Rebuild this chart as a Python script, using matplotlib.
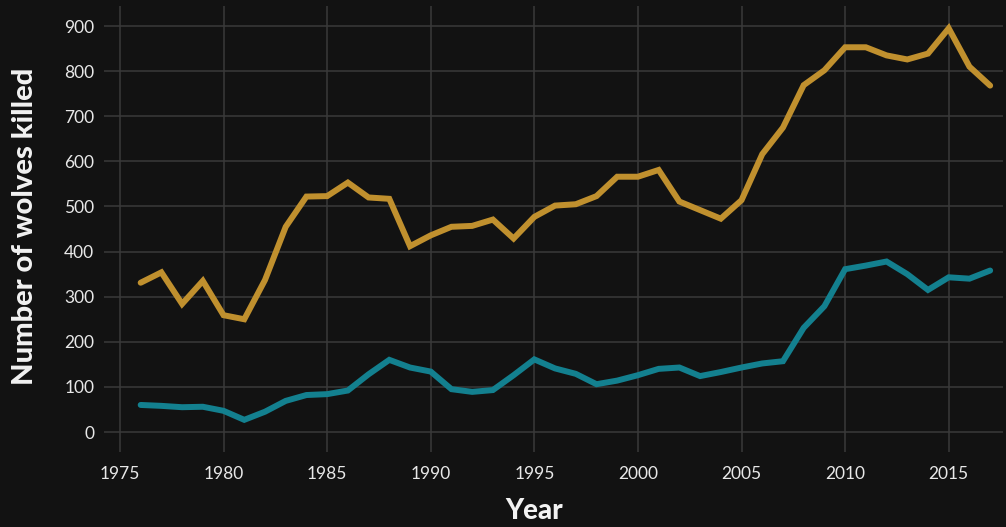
import matplotlib.pyplot as plt

# Данные: годы и число убитых волков
years = list(range(1976, 2018))
gold_vals = [331, 354, 284, 335, 259, 250, 337, 455, 522, 523,
             553, 520, 517, 412, 436, 455, 457, 471, 429, 477,
             502, 505, 523, 566, 566, 581, 511, 492, 473, 514,
             616, 675, 769, 802, 853, 853, 835, 826, 839, 895,
             810, 768]
teal_vals = [60, 58, 55, 56, 47, 27, 45, 69, 82, 84,
             92, 128, 160, 143, 134, 95, 89, 93, 126, 161,
             141, 129, 106, 114, 126, 140, 143, 124, 133, 143,
             152, 157, 231, 279, 361, 369, 378, 350, 315, 343,
             340, 358]
x_ticks = [1975, 1980, 1985, 1990, 1995, 2000, 2005, 2010, 2015]
y_ticks = [0, 100, 200, 300, 400, 500, 600, 700, 800, 900]

bg = '#121212'
grid_col = '#3a3a3a'
text_col = '#f2f2f2'

fig = plt.figure(figsize=(10.06, 5.27), dpi=100, facecolor=bg)
ax = fig.add_axes([104 / 1006, 1 - 452 / 527, (1003 - 104) / 1006, (452 - 6) / 527])
ax.set_facecolor(bg)

ax.plot(years, gold_vals, color='#c0902e', lw=4.3, solid_joinstyle='miter',
        solid_capstyle='round', zorder=3)
ax.plot(years, teal_vals, color='#13808f', lw=4.3, solid_joinstyle='miter',
        solid_capstyle='round', zorder=3)

ax.set_xlim(1974.23, 2017.62)
ax.set_ylim(-44.3, 944.5)
ax.set_xticks(x_ticks)
ax.set_yticks(y_ticks)
ax.grid(True, color=grid_col, lw=1.1)
ax.set_axisbelow(True)
for s in ax.spines.values():
    s.set_visible(False)

ax.tick_params(axis='both', length=0, colors='#e8e8e8', labelsize=12.5)
ax.tick_params(axis='x', pad=10)
ax.tick_params(axis='y', pad=7)
for lab in ax.get_xticklabels() + ax.get_yticklabels():
    lab.set_family('Lato')

fig.text(534 / 1006, 1 - 511 / 527, 'Year', color=text_col, fontsize=20,
         fontweight='black', family='Lato', ha='center', va='center')
fig.text(25 / 1006, 1 - 226 / 527, 'Number of wolves killed', color=text_col,
         fontsize=21, fontweight='black', family='Lato', ha='center',
         va='center', rotation=90)

fig.savefig('out.png', dpi=100, facecolor=bg)
